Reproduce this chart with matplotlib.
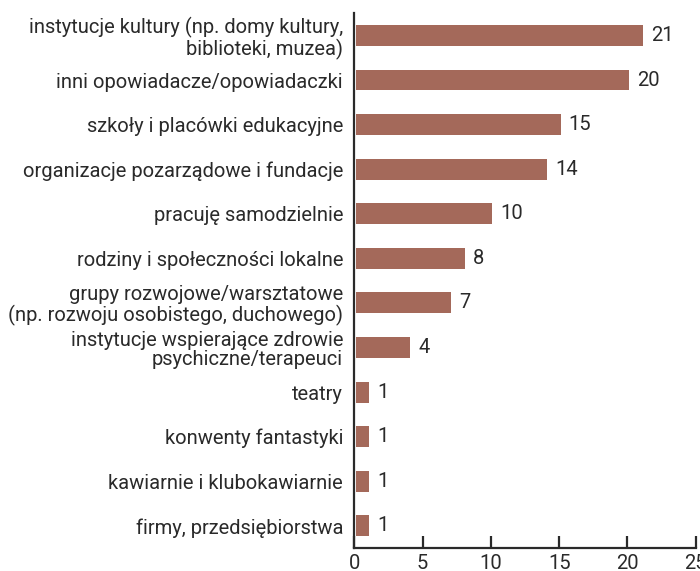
import matplotlib
matplotlib.use('Agg')
import matplotlib.pyplot as plt

# dane
kategorie = [
    'instytucje kultury (np. domy kultury,\nbiblioteki, muzea)',
    'inni opowiadacze/opowiadaczki',
    'szkoły i placówki edukacyjne',
    'organizacje pozarządowe i fundacje',
    'pracuję samodzielnie',
    'rodziny i społeczności lokalne',
    'grupy rozwojowe/warsztatowe\n(np. rozwoju osobistego, duchowego)',
    'instytucje wspierające zdrowie\npsychiczne/terapeuci',
    'teatry',
    'konwenty fantastyki',
    'kawiarnie i klubokawiarnie',
    'firmy, przedsiębiorstwa',
]
wartosci = [21, 20, 15, 14, 10, 8, 7, 4, 1, 1, 1, 1]
xticki = [0, 5, 10, 15, 20, 25]

plt.rcParams['font.family'] = ['Roboto', 'DejaVu Sans']
kolor_tekstu = '#2a2a2a'
rozmiar = 14.5

fig = plt.figure(figsize=(7, 5.71), dpi=100)
ax = fig.add_axes([0.506, 0.040, 0.488, 0.937])

y = list(range(len(kategorie)))
ax.barh(y, wartosci, height=0.47, color='#a4695a', left=0.1)
for yi, v in zip(y, wartosci):
    ax.text(v + 0.7, yi, str(v), va='center', ha='left', fontsize=rozmiar, color=kolor_tekstu)

ax.set_yticks(y)
ax.set_yticklabels(kategorie, fontsize=rozmiar, color=kolor_tekstu, linespacing=1.05)
ax.set_ylim(11.5, -0.5)
ax.set_xlim(0, 25)
ax.set_xticks(xticki)
ax.tick_params(axis='y', length=0, pad=8)
ax.tick_params(axis='x', direction='in', length=9, width=1.6, color=kolor_tekstu,
               labelsize=rozmiar, labelcolor=kolor_tekstu, pad=4)
for s in ['top', 'right']:
    ax.spines[s].set_visible(False)
for s in ['left', 'bottom']:
    ax.spines[s].set_linewidth(1.6)
    ax.spines[s].set_color(kolor_tekstu)

fig.savefig('out.png', dpi=100)
